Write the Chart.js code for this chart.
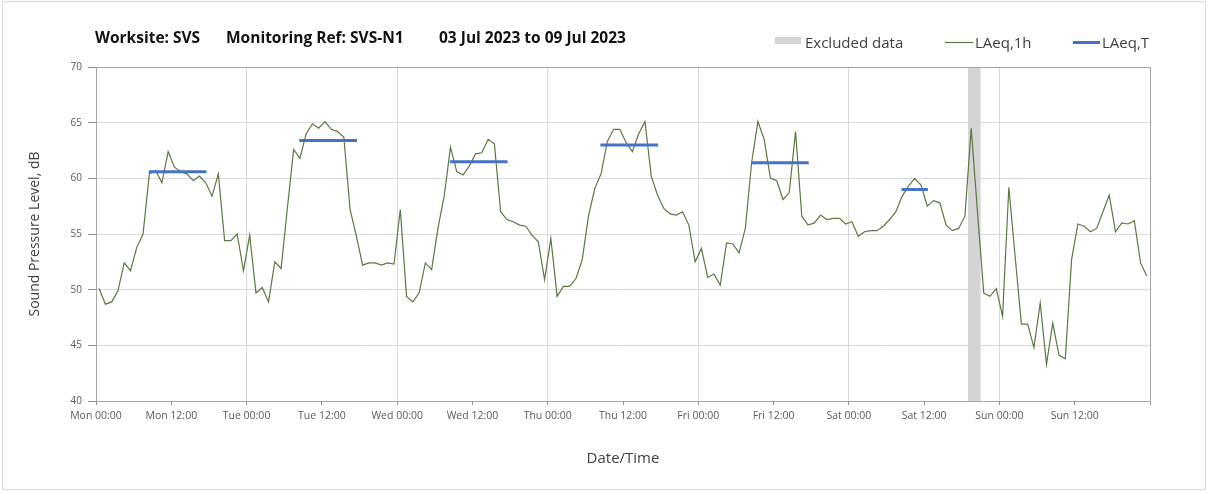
<!DOCTYPE html>
<html>
<head>
<meta charset="utf-8">
<script src="https://cdn.jsdelivr.net/npm/chart.js@4.4.0/dist/chart.umd.min.js"></script>
<style>
  html, body { margin: 0; padding: 0; background: #fff; }
  #wrap { position: relative; width: 1208px; height: 492px; }
  #frame { position: absolute; left: 2px; top: 1px; width: 1202px; height: 487px; border: 1px solid #d9d9d9; pointer-events: none; }
</style>
</head>
<body>
<div id="wrap"><canvas id="chart" width="1208" height="492"></canvas><div id="frame"></div></div>
<script>
// hourly LAeq,1h values, Mon 00:00 .. Sun 23:00 (one row per day)
const laeq1h = [
  50.1, 48.7, 48.9, 49.9, 52.4, 51.7, 53.8, 55.0, 60.4, 60.7, 59.6, 62.4, 61.0, 60.6, 60.4, 59.8, 60.2, 59.6, 58.4, 60.4, 54.4, 54.4, 55.0, 51.7,
  54.9, 49.7, 50.2, 48.9, 52.5, 51.9, 57.3, 62.6, 61.8, 64.0, 64.9, 64.5, 65.1, 64.4, 64.2, 63.7, 57.2, 54.8, 52.2, 52.4, 52.4, 52.2, 52.4, 52.3,
  57.2, 49.4, 48.9, 49.7, 52.4, 51.8, 55.5, 58.4, 62.8, 60.6, 60.3, 61.1, 62.2, 62.3, 63.5, 63.1, 57.0, 56.3, 56.1, 55.8, 55.7, 54.9, 54.3, 50.9,
  54.6, 49.4, 50.3, 50.3, 51.0, 52.7, 56.6, 59.1, 60.4, 63.3, 64.4, 64.4, 63.2, 62.4, 64.0, 65.1, 60.2, 58.5, 57.3, 56.8, 56.7, 57.0, 55.8, 52.5,
  53.7, 51.1, 51.4, 50.4, 54.2, 54.1, 53.3, 55.5, 61.4, 65.1, 63.5, 60.0, 59.8, 58.1, 58.7, 64.2, 56.6, 55.8, 56.0, 56.7, 56.3, 56.4, 56.4, 55.9,
  56.1, 54.8, 55.2, 55.3, 55.3, 55.7, 56.3, 57.0, 58.4, 59.3, 60.0, 59.4, 57.5, 58.0, 57.8, 55.8, 55.3, 55.5, 56.6, 64.5, 57.0, 49.7, 49.4, 50.1,
  47.6, 59.2, 53.0, 46.9, 46.9, 44.8, 48.8, 43.3, 47.0, 44.1, 43.8, 52.7, 55.9, 55.7, 55.2, 55.5, 57.0, 58.5, 55.2, 56.0, 55.9, 56.2, 52.4, 51.2
];

// LAeq,T over the daytime periods (first and last hour of each period)
const periodStart = [8, 32, 56, 80, 104, 128];
const periodEnd = [17, 41, 65, 89, 113, 132];
const laeqT = [60.6, 63.4, 61.5, 63.0, 61.4, 59.0];

// excluded data window (hours from Mon 00:00)
const excludedStart = [139];
const excludedEnd = [141];

const xTickLabels = [
  "Mon 00:00", "Mon 12:00", "Tue 00:00", "Tue 12:00", "Wed 00:00", "Wed 12:00", "Thu 00:00",
  "Thu 12:00", "Fri 00:00", "Fri 12:00", "Sat 00:00", "Sat 12:00", "Sun 00:00", "Sun 12:00", ""
];

const titleParts = ["Worksite: SVS", "Monitoring Ref: SVS-N1", "03 Jul 2023 to 09 Jul 2023"];
const seriesNames = ["Excluded data", "LAeq,1h", "LAeq,T"];

const GREEN = "#5a7840";
const BLUE = "#4472c4";
const GREY_BAND = "#d4d4d4";
const FONT = "'Open Sans', 'DejaVu Sans', sans-serif";

// points sit in the middle of their hour
const hourlyPoints = laeq1h.map((v, i) => ({ x: i + 0.5, y: v }));

const periodPoints = [];
laeqT.forEach((v, i) => {
  periodPoints.push({ x: periodStart[i] + 0.4, y: v });
  periodPoints.push({ x: periodEnd[i] + 0.6, y: v });
  periodPoints.push({ x: periodEnd[i] + 0.7, y: null });
});

const bandPlugin = {
  id: "band",
  beforeDatasetsDraw(chart) {
    const { ctx, chartArea, scales } = chart;
    ctx.save();
    ctx.fillStyle = GREY_BAND;
    excludedStart.forEach((s, i) => {
      const x1 = scales.x.getPixelForValue(s);
      const x2 = scales.x.getPixelForValue(excludedEnd[i]);
      ctx.fillRect(x1, chartArea.top, x2 - x1, chartArea.bottom - chartArea.top);
    });
    // plot frame
    ctx.strokeStyle = "#a6a6a6";
    ctx.lineWidth = 1;
    ctx.strokeRect(Math.round(chartArea.left) + 0.5, Math.round(chartArea.top) + 0.5,
      Math.round(chartArea.right - chartArea.left), Math.round(chartArea.bottom - chartArea.top));
    ctx.restore();
  }
};

const headerPlugin = {
  id: "header",
  afterDraw(chart) {
    const ctx = chart.ctx;
    ctx.save();
    ctx.textBaseline = "alphabetic";
    ctx.textAlign = "left";

    ctx.fillStyle = "#111";
    ctx.font = "bold 15.5px " + FONT;
    const tx = [95, 226, 439];
    titleParts.forEach((t, i) => ctx.fillText(t, tx[i], 43));

    // legend
    ctx.font = "15px " + FONT;
    ctx.fillStyle = GREY_BAND;
    ctx.fillRect(775, 37, 26, 7);
    ctx.fillStyle = "#404040";
    ctx.fillText(seriesNames[0], 805, 48);

    ctx.strokeStyle = GREEN;
    ctx.lineWidth = 1.2;
    ctx.beginPath();
    ctx.moveTo(945, 42.5);
    ctx.lineTo(973, 42.5);
    ctx.stroke();
    ctx.fillText(seriesNames[1], 975, 48);

    ctx.strokeStyle = BLUE;
    ctx.lineWidth = 3;
    ctx.beginPath();
    ctx.moveTo(1073, 42.5);
    ctx.lineTo(1100, 42.5);
    ctx.stroke();
    ctx.fillText(seriesNames[2], 1102, 48);
    ctx.restore();
  }
};

new Chart(document.getElementById("chart"), {
  type: "line",
  data: {
    datasets: [
      {
        label: seriesNames[1],
        data: hourlyPoints,
        borderColor: GREEN,
        borderWidth: 1.2,
        pointRadius: 0,
        tension: 0,
        order: 2
      },
      {
        label: seriesNames[2],
        data: periodPoints,
        borderColor: BLUE,
        borderWidth: 3,
        pointRadius: 0,
        tension: 0,
        spanGaps: false,
        order: 1
      }
    ]
  },
  options: {
    responsive: false,
    devicePixelRatio: 1,
    animation: false,
    layout: { padding: { left: 0, right: 58, top: 67, bottom: 0 } },
    plugins: {
      legend: { display: false },
      tooltip: { enabled: false }
    },
    scales: {
      x: {
        type: "linear",
        min: 0,
        max: 168,
        afterFit: (s) => { s.height = 91; },
        border: { color: "#8c8c8c" },
        grid: {
          color: (c) => (c.tick && c.tick.value % 24 === 0 ? "#d9d9d9" : "rgba(0,0,0,0)"),
          tickColor: "#8c8c8c",
          tickLength: 4
        },
        ticks: {
          stepSize: 12,
          autoSkip: false,
          maxRotation: 0,
          padding: 5,
          color: "#595959",
          font: { family: FONT, size: 10.5 },
          callback: (v) => xTickLabels[Math.round(v / 12)]
        },
        title: {
          display: true,
          text: "Date/Time",
          color: "#404040",
          font: { family: FONT, size: 15 },
          padding: { top: 0, bottom: 24 }
        }
      },
      y: {
        min: 40,
        max: 70,
        afterFit: (s) => { s.width = 96; },
        border: { color: "#8c8c8c" },
        grid: {
          color: "#d9d9d9",
          tickColor: "#8c8c8c",
          tickLength: 8
        },
        ticks: {
          stepSize: 5,
          padding: 6,
          color: "#595959",
          font: { family: FONT, size: 10 }
        },
        title: {
          display: true,
          text: "Sound Pressure Level, dB",
          color: "#404040",
          font: { family: FONT, size: 14 },
          padding: { top: 27, bottom: 0 }
        }
      }
    }
  },
  plugins: [bandPlugin, headerPlugin]
});
</script>
</body>
</html>
